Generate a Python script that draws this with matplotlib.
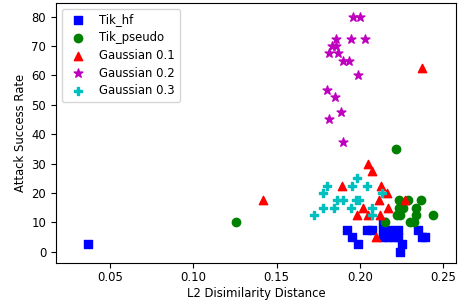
import matplotlib
matplotlib.use('Agg')
import matplotlib.pyplot as plt

# Tik_hf
hf_x = [0.037, 0.192, 0.1954, 0.1988, 0.2042, 0.207, 0.2136, 0.2136, 0.214, 0.217,
        0.220, 0.223, 0.223, 0.218, 0.225, 0.224, 0.2346, 0.237, 0.239]
hf_y = [2.5, 7.5, 5, 2.5, 7.5, 7.5, 10, 7.5, 5, 5,
        5, 5, 7.5, 7.5, 2.5, 0, 7.5, 5, 5]

# Tik_pseudo
ps_x = [0.1254, 0.2214, 0.215, 0.2234, 0.229, 0.2366, 0.2234, 0.2256, 0.2334,
        0.2224, 0.2238, 0.2334, 0.2436, 0.230, 0.2324]
ps_y = [10, 35, 10, 17.5, 17.5, 17.5, 15, 15, 15,
        12.5, 12.5, 12.5, 12.5, 10, 10]

# Gaussian 0.1
g1_x = [0.142, 0.237, 0.205, 0.2072, 0.1894, 0.2126, 0.216, 0.2114, 0.2272,
        0.202, 0.2166, 0.1984, 0.2046, 0.212, 0.2094]
g1_y = [17.5, 62.5, 30, 27.5, 22.5, 22.5, 20, 17.5, 17.5,
        15, 15, 12.5, 12.5, 12.5, 5]

# Gaussian 0.2
g2_x = [0.196, 0.200, 0.1854, 0.1946, 0.203, 0.183, 0.1858, 0.1814, 0.1868,
        0.1896, 0.1934, 0.199, 0.180, 0.185, 0.1884, 0.1816, 0.190]
g2_y = [80, 80, 72.5, 72.5, 72.5, 70, 70, 67.5, 67.5,
        65, 65, 60, 55, 52.5, 47.5, 45, 37.5]

# Gaussian 0.3
g3_x = [0.198, 0.1804, 0.195, 0.204, 0.178, 0.2134, 0.1864, 0.1896, 0.1976,
        0.1996, 0.1776, 0.1844, 0.1944, 0.2074, 0.1726, 0.2074]
g3_y = [25, 22.5, 22.5, 22.5, 20, 20, 17.5, 17.5, 17.5,
        17.5, 15, 15, 15, 15, 12.5, 12.5]

plt.rcParams['font.size'] = 8.4

fig = plt.figure(figsize=(4.58, 3.03), dpi=100)
ax = fig.add_axes([0.1223, 0.132, 0.8733, 0.858])

s = 36
ax.scatter(hf_x, hf_y, c='b', marker='s', s=s, label='Tik_hf')
ax.scatter(ps_x, ps_y, c='g', marker='o', s=s, label='Tik_pseudo')
ax.scatter(g1_x, g1_y, c='r', marker='^', s=s, label='Gaussian 0.1')
ax.scatter(g2_x, g2_y, c='m', marker='*', s=44, label='Gaussian 0.2')
ax.scatter(g3_x, g3_y, c='c', marker='P', s=s, label='Gaussian 0.3')

ax.set_xlim(0.0176, 0.2576)
ax.set_ylim(-3.8, 84.6)
ax.set_xticks([0.05, 0.10, 0.15, 0.20, 0.25])
ax.set_yticks(range(0, 81, 10))
ax.tick_params(axis='x', pad=2.5)
ax.set_xlabel('L2 Disimilarity Distance', labelpad=2)
ax.set_ylabel('Attack Success Rate', labelpad=3)
ax.legend(loc='upper left', labelspacing=0.4)

fig.savefig('out.png', dpi=100)
